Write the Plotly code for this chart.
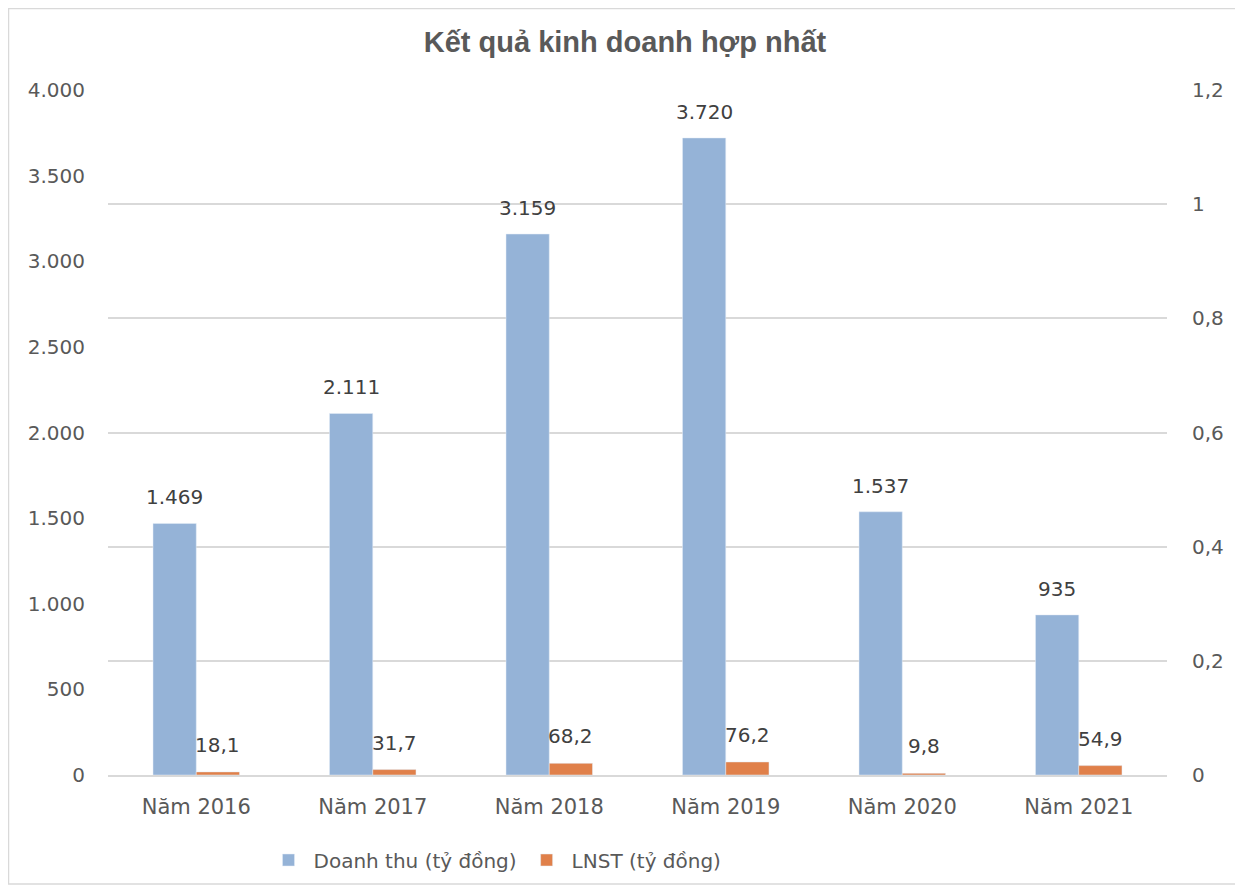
import plotly.graph_objects as go

categories = ["Năm 2016", "Năm 2017", "Năm 2018", "Năm 2019", "Năm 2020", "Năm 2021"]
doanh_thu = [1469, 2111, 3159, 3720, 1537, 935]
lnst = [18.1, 31.7, 68.2, 76.2, 9.8, 54.9]
y2_ticks = [0, 0.2, 0.4, 0.6, 0.8, 1.0, 1.2]

FONT = "DejaVu Sans"
GREY = "#595959"
LABEL = "#404040"

fig = go.Figure()
fig.add_trace(go.Bar(
    x=categories, y=doanh_thu, name="Doanh thu (tỷ đồng)",
    marker=dict(color="#95B3D7"),
))
fig.add_trace(go.Bar(
    x=categories, y=lnst, name="LNST (tỷ đồng)",
    marker=dict(color="#E0804A"),
))
# empty trace so the secondary axis is drawn
fig.add_trace(go.Scatter(x=[], y=[], yaxis="y2", showlegend=False, hoverinfo="skip"))

# figure coordinates (page body has an 8px margin)
W, H = 1232, 877
L, R, T, B = 100, 1159, 82, 767
pw, ph = R - L, B - T
bar_px = pw / len(categories) * 0.49 / 2

for c, v in zip(categories, doanh_thu):
    fig.add_annotation(x=c, y=v, text=f"{v:,}".replace(",", "."), showarrow=False,
                       xshift=-bar_px / 2, yshift=12, yanchor="bottom",
                       font=dict(family=FONT, size=20, color=LABEL))
for c, v in zip(categories, lnst):
    fig.add_annotation(x=c, y=v, text=f"{v:.1f}".replace(".", ","), showarrow=False,
                       xshift=bar_px / 2, yshift=13, yanchor="bottom",
                       font=dict(family=FONT, size=20, color=LABEL))

fig.update_layout(
    width=W, height=H,
    margin=dict(l=L, r=W - R, t=T, b=H - B, autoexpand=False),
    paper_bgcolor="white", plot_bgcolor="white",
    separators=",.",
    barmode="group", bargap=0.51, bargroupgap=0,
    font=dict(family=FONT, size=20, color=GREY),
    title=dict(text="<b>Kết quả kinh doanh hợp nhất</b>", x=(625 - 8) / W, xanchor="center",
               y=1 - 34 / H, yanchor="middle",
               font=dict(family="Liberation Sans", size=29, color=GREY)),
    xaxis=dict(showgrid=False, showline=True, linecolor="#d9d9d9", linewidth=1.5,
               ticks="", tickfont=dict(family=FONT, size=21, color=GREY),
               ticklabelstandoff=12),
    yaxis=dict(range=[0, 4000], dtick=500, separatethousands=True, showline=False,
               showgrid=False, zeroline=False, ticks="",
               tickfont=dict(family=FONT, size=20, color=GREY), ticklabelstandoff=22),
    yaxis2=dict(range=[0, 1.2], tickvals=y2_ticks, overlaying="y", side="right",
                showgrid=True, gridcolor="#d9d9d9", gridwidth=1.5,
                zeroline=False, showline=False, ticks="",
                tickfont=dict(family=FONT, size=20, color=GREY), ticklabelstandoff=24),
    legend=dict(orientation="h", x=(495 - 8 - L) / pw, xanchor="center",
                y=(B - 852) / ph, yanchor="middle",
                font=dict(family=FONT, size=20, color=GREY),
                traceorder="normal", itemwidth=40),
    showlegend=True,
)

fig.add_shape(type="rect", xref="paper", yref="paper",
              x0=(0.5 - L) / pw, x1=(W - 1 - L) / pw,
              y0=(B - (H - 1)) / ph, y1=(B - 0.5) / ph,
              line=dict(color="#d9d9d9", width=1.5), fillcolor="rgba(0,0,0,0)", layer="below")

fig.write_html("out.html")
